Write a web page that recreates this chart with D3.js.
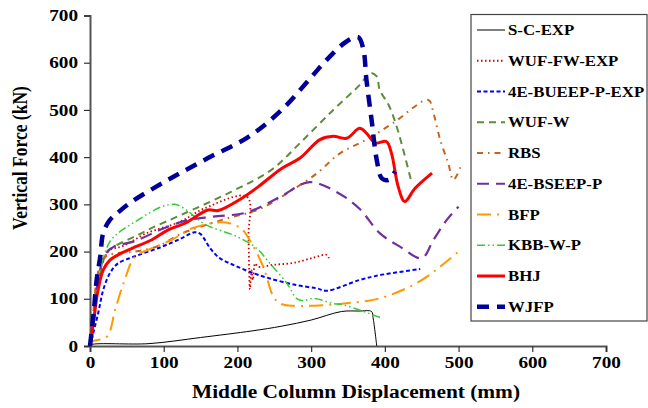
<!DOCTYPE html>
<html>
<head>
<meta charset="utf-8">
<script src="https://cdn.jsdelivr.net/npm/d3@7"></script>
<style>
  body { margin: 0; background: #fff; }
  text { font-family: "Liberation Serif", "Times New Roman", serif; font-weight: bold; fill: #000; }
</style>
</head>
<body>
<svg id="chart"></svg>
<script>
// Load-displacement curves, [displacement mm, force kN]
const scExp = [[0,0],[2,3],[80,5],[150,18],[220,32],[260,42],[300,55],[341,73],[365,74],[382,73],[384,60],[389,0]];
const wufFwExp = [[0,0],[5,60],[10,130],[18,180],[27,203],[45,212],[77,239],[122,263],[156,292],[213,316],[215,230],[217,120],[219,160],[221,140],[224,175],[228,168],[249,172],[276,176],[303,187],[321,193],[324,186]];
const bueepExp = [[0,0],[11,69],[18,119],[27,154],[38,175],[61,190],[97,210],[124,228],[142,241],[150,237],[163,207],[176,186],[194,172],[217,157],[244,143],[280,129],[308,122],[321,117],[366,140],[393,150],[448,163]];
const wufW = [[0,0],[5,60],[9,112],[16,168],[23,200],[34,212],[61,232],[84,250],[124,278],[192,327],[246,373],[285,430],[330,500],[366,553],[380,578],[389,571],[393,542],[405,511],[416,465],[425,415],[436,348]];
const rbs = [[0,0],[5,80],[10,150],[18,185],[30,195],[61,200],[93,212],[124,238],[181,268],[230,290],[271,327],[308,366],[339,408],[375,437],[411,472],[459,521],[466,493],[475,437],[486,387],[493,352],[504,384]];
const bseep = [[0,0],[5,60],[10,130],[20,192],[32,210],[61,222],[95,246],[131,266],[167,274],[213,283],[258,316],[298,347],[339,322],[366,290],[393,239],[421,210],[450,186],[466,225],[484,267],[500,295]];
const bfp = [[0,0],[2,9],[23,20],[34,76],[47,140],[61,189],[84,207],[111,225],[140,250],[181,262],[204,250],[219,218],[235,168],[249,104],[258,90],[276,85],[321,87],[344,90],[393,101],[443,133],[475,168],[500,200]];
const kbb = [[0,0],[8,100],[16,175],[27,221],[38,239],[61,263],[97,295],[115,300],[129,290],[142,274],[158,256],[199,232],[226,207],[244,175],[267,133],[280,101],[289,96],[303,101],[330,90],[344,87],[396,59]];
const bhj = [[0,0],[4.5,48],[11,119],[18,161],[27,182],[38,193],[57,207],[84,225],[106,246],[129,260],[160,288],[174,287],[206,313],[228,337],[260,376],[285,398],[312,437],[330,444],[348,440],[366,461],[375,451],[387,430],[402,433],[409,408],[418,338],[427,306],[441,334],[464,366]];
const wjfp = [[0,0],[5,70],[9,140],[14,190],[18,240],[27,267],[36,280],[57,306],[106,352],[160,398],[215,443],[260,500],[301,571],[321,606],[348,645],[364,654],[371,627],[375,564],[382,479],[389,394],[396,355],[405,352],[414,370]];

const seriesNames = ['S-C-EXP','WUF-FW-EXP','4E-BUEEP-P-EXP','WUF-W','RBS','4E-BSEEP-P','BFP','KBB-W-P','BHJ','WJFP'];
const seriesData = [scExp, wufFwExp, bueepExp, wufW, rbs, bseep, bfp, kbb, bhj, wjfp];
const xTicks = [0,100,200,300,400,500,600,700];
const yTicks = [0,100,200,300,400,500,600,700];

// line styles per series
const styles = [
  { color: '#000000', width: 1,   dash: null },
  { color: '#d40000', width: 1.8, dash: '1.5,2.5' },
  { color: '#0000ff', width: 2,   dash: '4,2.5' },
  { color: '#5e8c3a', width: 2,   dash: '7,5' },
  { color: '#c5641e', width: 2,   dash: '6,5,1.5,5' },
  { color: '#7030a0', width: 2.2, dash: '12,7' },
  { color: '#ff9900', width: 2,   dash: '14,6,2,6' },
  { color: '#33cc33', width: 1.5, dash: '8,3,1.5,3,1.5,3' },
  { color: '#ff0000', width: 3,   dash: null },
  { color: '#000099', width: 4.5, dash: '12,8' }
];

// the reference text looks stretched sideways
const sx = 1.2;

const width = 648, height = 408;
const margin = { top: 15.5, right: 42, bottom: 62, left: 90 };
const plotW = width - margin.left - margin.right;
const plotH = height - margin.top - margin.bottom;

const svg = d3.select('#chart').attr('width', width).attr('height', height);
const g = svg.append('g').attr('transform', `translate(${margin.left},${margin.top})`);

const x = d3.scaleLinear().domain([0, 700]).range([0, plotW]);
const y = d3.scaleLinear().domain([0, 700]).range([plotH, 0]);

// axes
const xAxis = g.append('g')
  .attr('transform', `translate(0,${plotH})`)
  .call(d3.axisBottom(x).tickValues(xTicks).tickSize(6).tickPadding(5));
const yAxis = g.append('g')
  .call(d3.axisLeft(y).tickValues(yTicks).tickSize(6).tickPadding(4));

[xAxis, yAxis].forEach(a => {
  a.select('.domain').attr('stroke', '#555').attr('stroke-width', 2);
  a.selectAll('.tick line').attr('stroke', '#333').attr('stroke-width', 1.2);
  a.selectAll('.tick text')
    .style('font-family', '"Liberation Serif", "Times New Roman", serif')
    .style('font-weight', 'bold')
    .style('font-size', '16px')
    .attr('fill', '#000')
    .attr('transform', `scale(${sx},1)`);
});

// curves
const line = d3.line()
  .x(d => x(d[0]))
  .y(d => y(d[1]))
  .curve(d3.curveCatmullRom.alpha(0.5));

seriesData.forEach((data, i) => {
  const s = styles[i];
  g.append('path')
    .datum(data)
    .attr('fill', 'none')
    .attr('stroke', s.color)
    .attr('stroke-width', s.width)
    .attr('stroke-dasharray', s.dash)
    .attr('d', line);
});

// axis titles
svg.append('text')
  .attr('transform', `translate(356,398) scale(${sx},1)`)
  .attr('text-anchor', 'middle')
  .style('font-size', '17.8px')
  .text('Middle Column Displacement (mm)');

svg.append('text')
  .attr('transform', `translate(27,158) scale(1.25,1) rotate(-90)`)
  .attr('text-anchor', 'middle')
  .style('font-size', '17.5px')
  .text('Vertical Force (kN)');

// legend
const legend = svg.append('g');
legend.append('rect')
  .attr('x', 471).attr('y', 14.5)
  .attr('width', 176).attr('height', 306.5)
  .attr('fill', '#fff')
  .attr('stroke', '#444').attr('stroke-width', 1.2);

seriesNames.forEach((name, i) => {
  const s = styles[i];
  const ly = 30 + i * 30.75;
  legend.append('line')
    .attr('x1', 477).attr('x2', 505)
    .attr('y1', ly).attr('y2', ly)
    .attr('stroke', s.color)
    .attr('stroke-width', s.width)
    .attr('stroke-dasharray', s.dash);
  legend.append('text')
    .attr('transform', `translate(508,${ly + 5}) scale(${sx},1)`)
    .style('font-size', '14px')
    .text(name);
});
</script>
</body>
</html>
